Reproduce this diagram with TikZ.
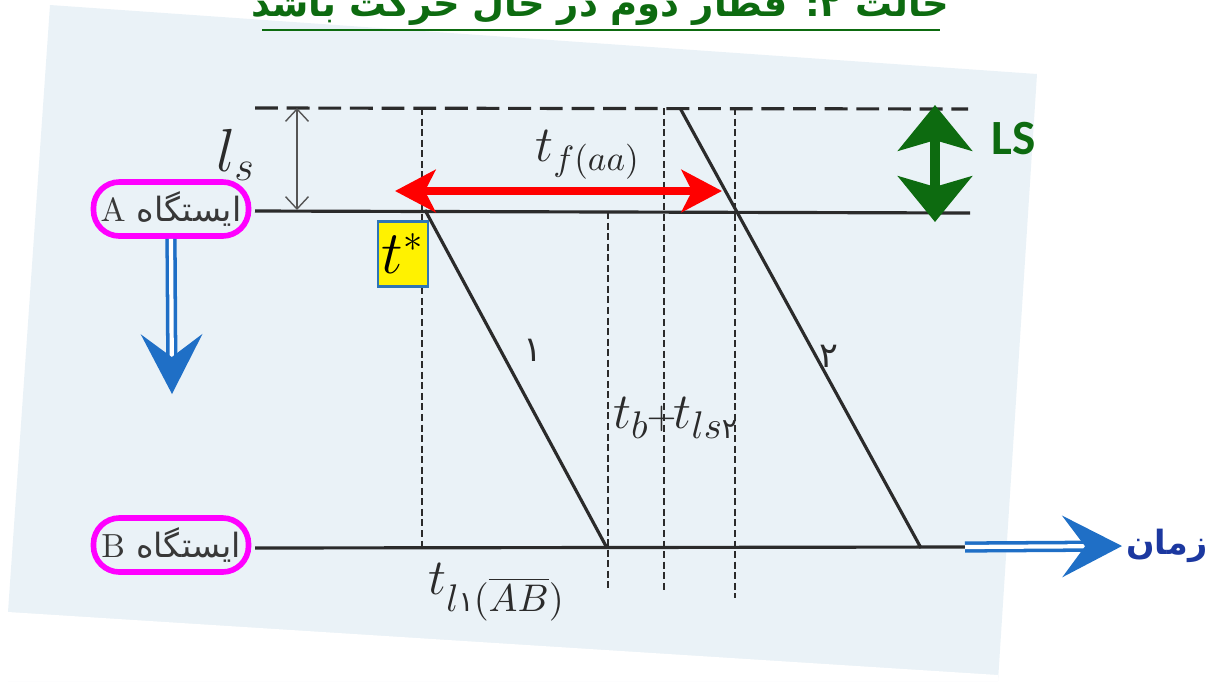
\documentclass[tikz,border=0pt]{standalone}
\usepackage{amsmath}
\usepackage{fontspec}
\usepackage{tikz}
\usetikzlibrary{arrows.meta,positioning}
\TeXXeTstate=1
\newfontfamily\arabicfont[Script=Arabic]{DejaVu Sans}
\newfontfamily\lsfont{Carlito}
\definecolor{scanbg}{HTML}{EAF2F7}
\definecolor{ink}{HTML}{2B2B2B}
\definecolor{magenta2}{HTML}{FF00FF}
\definecolor{blue2}{HTML}{1F6FC6}
\definecolor{navy2}{HTML}{1C38A0}
\definecolor{green2}{HTML}{0D6B10}
\definecolor{red2}{HTML}{FF0000}
\definecolor{border2}{HTML}{2E75B6}

\begin{document}
\begin{tikzpicture}[
          x=0.01cm, y=-0.01cm,
          every node/.style={inner sep=0pt},
          station/.style={draw=magenta2,line width=1.6pt,rounded corners=0.26cm,
                          minimum width=1.55cm,minimum height=0.54cm,
                          text=black!78,font=\fontsize{9.5}{11}\selectfont},
          track/.style={ink,line width=0.9pt},
          topdash/.style={ink,line width=0.9pt,dash pattern=on 6.5pt off 2.5pt},
          guide/.style={ink,line width=0.45pt,dash pattern=on 2pt off 1pt},
          mathlbl/.style={ink,font=\fontsize{16}{18}\selectfont},
          numlbl/.style={ink,font=\arabicfont\fontsize{10}{12}\selectfont},
          starbox/.style={fill=yellow,draw=border2,line width=0.6pt,
                          minimum width=0.5cm,minimum height=0.65cm},
          flow/.style={blue2,line width=1pt,double=white,double distance=1.2pt,
                       -{Stealth[length=17pt,width=17.5pt,inset=6.5pt]}},
          gap/.style={red2,line width=2.2pt,
                      {Stealth[length=11.5pt,width=12pt,inset=3pt]}-{Stealth[length=11.5pt,width=12pt,inset=3pt]}},
          lsarrow/.style={green2,line width=2.8pt,
                          {Stealth[length=13pt,width=21pt,inset=3pt]}-{Stealth[length=13pt,width=21pt,inset=3pt]}},
      ]
        \useasboundingbox (0,0) rectangle (1212,681);
        \clip (0,0) rectangle (1212,681);

        % scanned page
        \fill[scanbg] (50,5) -- (1037,74) -- (998,681) -- (8,681) -- (8,612) -- cycle;
        \fill[white] (8,612) -- (998,675) -- (998,681) -- (8,681) -- cycle;

        % title
        \node[font=\arabicfont\bfseries\fontsize{10.5}{12}\selectfont,text=green2,anchor=base]
          (title) at (600,16) {\beginR حالت ۲: قطار دوم در حال حرکت باشد\endR};
        \coordinate (ul0) at (262,30);
        \coordinate (ul1) at (940,30);
        \draw[green2,line width=0.7pt] (ul0) -- (ul1);

        % stations
        \node[station] (staA) at (171,209) {\beginR{\arabicfont ایستگاه} A\endR};
        \node[station] (staB) at (171,545) {\beginR{\arabicfont ایستگاه} B\endR};

        \coordinate (D0) at (255,108);
        \coordinate (D1) at (968,109);
        \coordinate (A0) at (255,211);
        \coordinate (A1) at (970,213);
        \coordinate (B0) at (255,548);
        \coordinate (B1) at (965,547);

        \draw[topdash] (D0) -- (D1);
        \draw[track] (A0) -- (A1);
        \draw[track] (B0) -- (B1);

        % dashed guides
        \coordinate (g1a) at (422,108);  \coordinate (g1b) at (422,548);
        \coordinate (g2a) at (608,212);  \coordinate (g2b) at (608,588);
        \coordinate (g3a) at (664,108);  \coordinate (g3b) at (664,593);
        \coordinate (g4a) at (735,108);  \coordinate (g4b) at (735,598);
        \draw[guide] (g1a) -- (g1b);
        \draw[guide] (g2a) -- (g2b);
        \draw[guide] (g3a) -- (g3b);
        \draw[guide] (g4a) -- (g4b);

        % trains
        \coordinate (tr1a) at (425,210);
        \coordinate (tr1b) at (607,548);
        \coordinate (tr2a) at (680,108);
        \coordinate (tr2b) at (921,548);
        \draw[track] (tr1a) -- (tr1b);
        \draw[track] (tr2a) -- (tr2b);
        \node[numlbl] (n1) at (533,350) {۱};
        \node[numlbl] (n2) at (829,356) {۲};

        % ls
        \coordinate (ls0) at (297,108);
        \coordinate (ls1) at (297,210);
        \draw[ink!80,line width=0.4pt,{Straight Barb[length=3.5pt,width=6.5pt]}-{Straight Barb[length=3.5pt,width=6.5pt]}] (ls0) -- (ls1);
        \node[mathlbl,font=\fontsize{17}{19}\selectfont] (lsl) at (236,155) {$l_{s}$};

        \node[mathlbl,font=\fontsize{14}{16}\selectfont] (tf) at (588,155) {$t_{f(aa)}$};
        \node[starbox] (tstar) at (403,254) {\fontsize{16}{18}\selectfont$t^{*}$};
        \node[mathlbl,font=\fontsize{15}{17}\selectfont] (tbl) at (676,418)
          {$t_{b}\mkern-1mu{\scriptstyle +}\mkern-1mu t_{ls\mbox{\arabicfont\fontsize{8}{9}\selectfont ۲}}$};
        \node[mathlbl,font=\fontsize{15}{17}\selectfont] (tl1) at (497,592)
          {$t_{l\mbox{\arabicfont\fontsize{8}{9}\selectfont ۱}(\overline{AB})}$};

        % highlight arrows
        \coordinate (tfL) at (395,191);
        \coordinate (tfR) at (722,191);
        \draw[gap] (tfL) -- (tfR);

        \coordinate (lsTop) at (935,105);
        \coordinate (lsBot) at (935,222);
        \draw[lsarrow] (lsTop) -- (lsBot);
        \node[font=\lsfont\bfseries\fontsize{14}{16}\selectfont,text=green2] (lslbl) at (1014,139) {LS};

        \coordinate (downTip) at (172,394);
        \draw[flow] (staA.south) -- (downTip);

        \coordinate (timeTip) at (1122,546);
        \coordinate (timeEnd) at (1208,546);
        \draw[flow] (B1) -- (timeTip);
        \node[font=\arabicfont\bfseries\fontsize{9.5}{11}\selectfont,text=navy2,anchor=east]
          (timelbl) at (timeEnd) {\beginR زمان\endR};
      \end{tikzpicture}
\end{document}
